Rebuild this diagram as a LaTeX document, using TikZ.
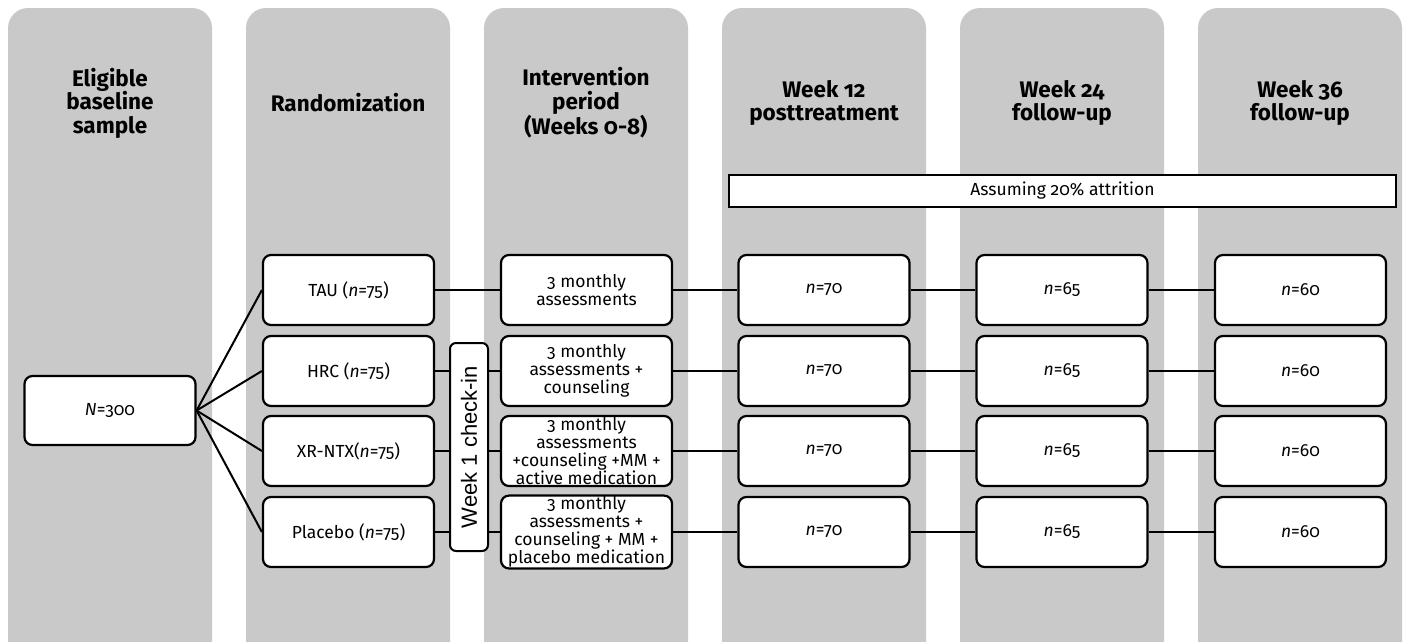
\documentclass[tikz,border=0pt]{standalone}
\usepackage{fontspec}
\setmainfont{Fira Sans}[Numbers=OldStyle]
\newfontfamily\arialf{Liberation Sans}
\definecolor{colgray}{HTML}{C9C9C9}
\begin{document}
\begin{tikzpicture}[x=1pt,y=-1pt,
  colbg/.style={fill=colgray, rounded corners=20pt},
  head/.style={font=\fontsize{22.5}{23.5}\selectfont\bfseries, align=center},
  box/.style={draw, line width=2.2pt, rounded corners=8pt, fill=white, minimum width=171pt, minimum height=70pt, align=center, font=\fontsize{17.5}{18}\selectfont, inner sep=1pt},
  conn/.style={line width=2pt},
  vals/.style={box}]
\useasboundingbox (0,0) rectangle (1406,641);
\clip (0,0) rectangle (1406,641);
% columns
\foreach \i in {0,...,5}{
  \fill[colbg] ({8+238*\i},700) -- ({8+238*\i},8) -- ({212+238*\i},8) -- ({212+238*\i},700) -- cycle;
}
% headers
\node[head] (h1) at (110,103) {Eligible\\baseline\\sample};
\node[head] (h2) at (348,103) {Randomization};
\node[head] (h3) at (586,103) {Intervention\\period\\(Weeks 0-8)};
\node[head] (h4) at (824,103) {Week 12\\posttreatment};
\node[head] (h5) at (1062,103) {Week 24\\follow-up};
\node[head] (h6) at (1300,103) {Week 36\\follow-up};
% attrition
\node[draw, line width=1.5pt, fill=white, minimum width=667pt, minimum height=32pt, font=\fontsize{17.5}{18}\selectfont] (attr) at (1062.5,191) {Assuming 20\% attrition};
% baseline
\node[box, minimum height=69pt] (n300) at (110,410.5) {\textit{N}=300};
% randomization
\node[box] (r1) at (348.5,290) {TAU (\textit{n}=75)};
\node[box] (r2) at (348.5,371) {HRC (\textit{n}=75)};
\node[box] (r3) at (348.5,451) {XR-NTX(\textit{n}=75)};
\node[box] (r4) at (348.5,532) {Placebo (\textit{n}=75)};
% intervention
\node[box] (i1) at (586.5,290) {3 monthly\\assessments};
\node[box] (i2) at (586.5,371) {3 monthly\\assessments +\\counseling};
\node[box] (i3) at (586.5,451) {3 monthly\\assessments\\+counseling +MM +\\active medication};
\node[box] (i4) at (586.5,532) {3 monthly\\assessments +\\counseling + MM +\\placebo medication};
% week 12/24/36
\foreach \r/\y in {1/290,2/371,3/451,4/532}{
  \node[vals] (a\r) at (824,\y) {\textit{n}=70};
  \node[vals] (b\r) at (1062,\y) {\textit{n}=65};
  \node[vals] (c\r) at (1300.5,\y) {\textit{n}=60};
}
% connectors
\foreach \r in {1,...,4}{
  \draw[conn] (n300.east) -- (r\r.west);
  \draw[conn] (r\r.east) -- (i\r.west);
  \draw[conn] (i\r.east) -- (a\r.west);
  \draw[conn] (a\r.east) -- (b\r.west);
  \draw[conn] (b\r.east) -- (c\r.west);
}
% week 1 check-in
\node[draw, line width=2pt, rounded corners=6pt, fill=white, minimum width=208pt, minimum height=38pt, rotate=90, font=\arialf\fontsize{22}{24}\selectfont, inner sep=0pt] (chk) at (469,447) {Week 1 check-in};
\end{tikzpicture}
\end{document}
